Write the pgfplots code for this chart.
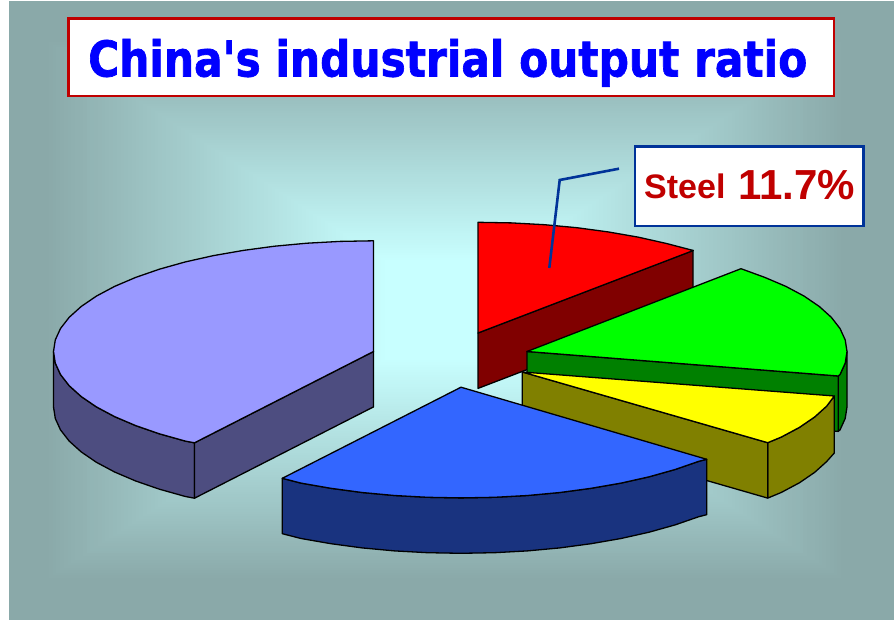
\documentclass[border=0pt]{standalone}
\usepackage{pgfplots}
\usepackage{fontspec}
\pgfplotsset{compat=1.18}
\setmainfont{Liberation Sans}
\newfontfamily\titlefont{DejaVu Sans}[BoldFeatures={FakeBold=1.5}]
\definecolor{bgouter}{HTML}{8AA9A9}
\definecolor{bginner}{HTML}{C8FFFF}
\definecolor{framered}{HTML}{C00000}
\definecolor{frameblue}{HTML}{003399}
\definecolor{purpletop}{HTML}{9999FF}
\definecolor{purpleside}{HTML}{4D4D80}
\definecolor{bluetop}{HTML}{3366FF}
\definecolor{blueside}{HTML}{19337F}
\definecolor{greentop}{HTML}{00FF00}
\definecolor{greenside}{HTML}{008000}
\definecolor{yellowtop}{HTML}{FFFF00}
\definecolor{yellowside}{HTML}{808000}
\definecolor{redtop}{HTML}{FF0000}
\definecolor{redside}{HTML}{800000}
\definecolor{titleblue}{HTML}{0000FF}
\begin{document}
\begin{tikzpicture}[x=1pt,y=1pt]
% page and background: nested rectangles give a rectangular gradient
\fill[white] (0,0) rectangle (894,620);
\fill[bgouter] (9,0) rectangle (894,619);
\foreach \i in {0,...,90}{
  \pgfmathsetmacro{\hw}{400-340*(\i/90)}
  \pgfmathsetmacro{\hh}{270-220*(\i/90)}
  \pgfmathsetmacro{\p}{100*(\i/90)}
  \fill[bginner!\p!bgouter] (445-\hw,310-\hh) rectangle (445+\hw,310+\hh);
}
\begin{axis}[
  at={(0,0)}, anchor=south west,
  scale only axis, width=894pt, height=620pt,
  xmin=0, xmax=894, ymin=0, ymax=620,
  y dir=reverse, hide axis, clip=false,
  every axis plot/.append style={draw=black, line width=1.3pt, line join=round},
]
% purple slice
\addplot[fill=purpleside] coordinates {
  (53.5,351.5)(55.3,363.1)(60.5,374.5)(69.2,385.7)(81.2,396.5)(96.4,406.9)
  (114.6,416.6)(135.7,425.6)(159.4,433.8)(185.4,441.1)(194.5,442.8)
  (194.5,498.2)(185.4,496.5)(159.4,489.2)(135.7,481.0)(114.6,472.0)(96.4,462.3)
  (81.2,451.9)(69.2,441.1)(60.5,429.9)(55.3,418.5)(53.5,406.9)} -- cycle;
\addplot[fill=purpleside] coordinates {
  (194.5,442.8)(373.5,351.5)(373.5,406.9)(194.5,498.2)} -- cycle;
\addplot[fill=purpletop] coordinates {
  (373.5,351.5)(373.5,240.8)(340.1,241.4)(307.0,243.2)(274.6,246.2)(243.4,250.4)
  (213.5,255.6)(185.4,261.9)(159.4,269.2)(135.7,277.4)(114.6,286.4)(96.4,296.1)
  (81.2,306.5)(69.2,317.3)(60.5,328.5)(55.3,339.9)(53.5,351.5)(55.3,363.1)
  (60.5,374.5)(69.2,385.7)(81.2,396.5)(96.4,406.9)(114.6,416.6)(135.7,425.6)
  (159.4,433.8)(185.4,441.1)(194.5,442.8)} -- cycle;
% red slice
\addplot[fill=redside] coordinates {
  (478,333)(693,250.5)(693,305.9)(478,388.4)} -- cycle;
\addplot[fill=redtop] coordinates {
  (478,333)(478,222.3)(511.4,222.9)(544.5,224.7)(576.9,227.7)(608.1,231.9)
  (638,237.1)(666.1,243.4)(693.3,250.5)} -- cycle;
% green slice
\addplot[fill=greenside] coordinates {
  (838.3,376)(840,374.5)(845.2,363.1)(847,351.5)(847,406.9)(845.2,418.5)
  (840,429.9)(838.3,431.4)} -- cycle;
\addplot[fill=greenside] coordinates {
  (527,351.5)(838.3,376)(838.3,431.4)(527,406.9)} -- cycle;
\addplot[fill=greentop] coordinates {
  (527,351.5)(741,268.7)(764.8,277.4)(785.9,286.4)(804.1,296.1)(819.3,306.5)
  (831.3,317.3)(840,328.5)(845.2,339.9)(847,351.5)(845.2,363.1)(840,374.5)
  (838.3,376)} -- cycle;
% yellow slice
\addplot[fill=yellowside] coordinates {
  (834.3,396)(826.6,406.2)(814.6,417)(799.4,427.4)(781.2,437.1)(767.7,442.7)
  (767.7,498.1)(781.2,492.5)(799.4,482.8)(814.6,472.4)(826.6,461.6)(834.3,453)} -- cycle;
\addplot[fill=yellowside] coordinates {
  (522.3,372)(767.7,442.7)(767.7,498.1)(522.3,427.4)} -- cycle;
\addplot[fill=yellowtop] coordinates {
  (522.3,372)(834.3,396)(826.6,406.2)(814.6,417)(799.4,427.4)(781.2,437.1)
  (767.7,442.7)} -- cycle;
% blue slice
\addplot[fill=blueside] coordinates {
  (282.3,478.3)(301,483.1)(330.9,488.3)(362.1,492.5)(394.5,495.5)(427.6,497.3)
  (461,497.9)(494.4,497.3)(527.5,495.5)(559.9,492.5)(591.1,488.3)(621,483.1)
  (649.1,476.8)(675.1,469.5)(698.8,461.3)(706.7,459.3)
  (706.7,514.7)(698.8,516.7)(675.1,524.9)(649.1,532.2)(621,538.5)(591.1,543.7)
  (559.9,547.9)(527.5,550.9)(494.4,552.7)(461,553.3)(427.6,552.7)(394.5,550.9)
  (362.1,547.9)(330.9,543.7)(301,538.5)(282.3,533.7)} -- cycle;
\addplot[fill=bluetop] coordinates {
  (461,387.2)(282.3,478.3)(301,483.1)(330.9,488.3)(362.1,492.5)(394.5,495.5)
  (427.6,497.3)(461,497.9)(494.4,497.3)(527.5,495.5)(559.9,492.5)(591.1,488.3)
  (621,483.1)(649.1,476.8)(675.1,469.5)(698.8,461.3)(706.7,459.3)} -- cycle;
% callout leader
\addplot[draw=frameblue, line width=2.6pt, line join=miter] coordinates {
  (619,168.7)(559.7,180)(549.3,268)};
% title box
\draw[framered, line width=2.4pt, fill=white] (axis cs:68.5,18.5) rectangle (axis cs:834,96);
\node[anchor=base west, inner sep=0pt, text=titleblue] at (axis cs:88,76.5)
  {\resizebox{719pt}{37.5pt}{\titlefont\bfseries China's industrial output ratio}};
% callout box
\draw[frameblue, line width=2.8pt, fill=white] (axis cs:635,146.5) rectangle (axis cs:863.5,226);
\node[anchor=base west, inner sep=0pt, text=framered, font=\bfseries\fontsize{34}{36}\selectfont]
  at (axis cs:644,198.5) {Steel};
\node[anchor=base west, inner sep=0pt, text=framered, font=\bfseries\fontsize{42}{44}\selectfont]
  at (axis cs:738,199.5) {11.7\%};
\end{axis}
\end{tikzpicture}
\end{document}
